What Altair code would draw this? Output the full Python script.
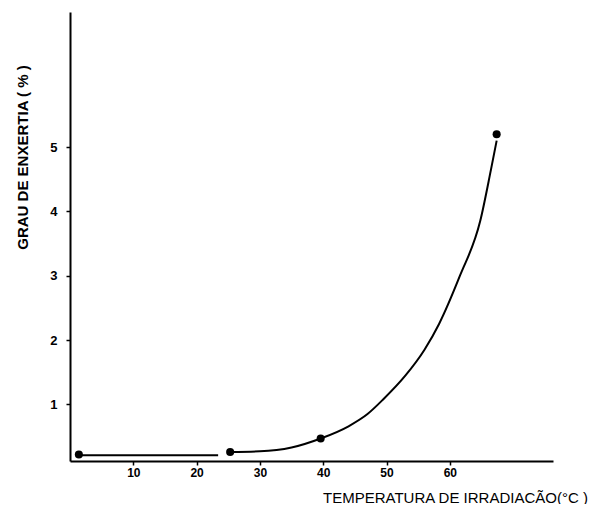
import altair as alt
import pandas as pd

# measured points
pt_x = [1.4, 25.3, 39.6, 67.4]
pt_y = [0.22, 0.26, 0.47, 5.2]

# flat segment drawn at the left
flat_x = [1.4, 23.4]
flat_y = [0.21, 0.21]

# hand-drawn curve through the upper points
curve_x = [25.3, 30, 35, 39.6, 44, 47, 49.5, 53, 56, 58.3, 61.6, 64.8, 66.5, 67.4]
curve_y = [0.26, 0.27, 0.33, 0.47, 0.66, 0.85, 1.08, 1.45, 1.85, 2.25, 3.0, 3.85, 4.65, 5.1]

x_ticks = [10, 20, 30, 40, 50, 60]
y_ticks = [1, 2, 3, 4, 5]

pts = pd.DataFrame({"x": pt_x, "y": pt_y})
lines = pd.DataFrame({
    "x": flat_x + curve_x,
    "y": flat_y + curve_y,
    "seg": ["a"] * len(flat_x) + ["b"] * len(curve_x),
    "order": list(range(len(flat_x))) + list(range(len(curve_x))),
})

xs = alt.Scale(domain=[0, 76.3], nice=False, zero=False)
ys = alt.Scale(domain=[0.12, 7.1], nice=False, zero=False)

FONT = "Liberation Sans"

xaxis = alt.Axis(
    values=x_ticks, format="d", grid=False, domainColor="black", domainWidth=2,
    tickColor="black", tickSize=4, tickWidth=1.5, labelFont=FONT,
    labelFontWeight="bold", labelFontSize=12, labelColor="black", labelPadding=2,
    title="TEMPERATURA DE IRRADIACÃO(°C )", titleFont=FONT, titleFontSize=15,
    titleFontWeight="normal", titleColor="black", titleX=385, titleY=36,
    titleAlign="center", titleBaseline="middle",
)
yaxis = alt.Axis(
    values=y_ticks, format="d", grid=False, domainColor="black", domainWidth=2,
    tickColor="black", tickSize=4, tickWidth=1.5, labelFont=FONT,
    labelFontWeight="bold", labelFontSize=13, labelColor="black", labelPadding=9,
    title="GRAU DE ENXERTIA ( % )", titleFont=FONT, titleFontSize=15,
    titleFontWeight="bold", titleColor="black", titleX=-48, titleY=145,
    titleAngle=-90, titleAlign="center", titleBaseline="middle",
)

line_layer = alt.Chart(lines).mark_line(
    color="black", strokeWidth=2, interpolate="monotone"
).encode(
    x=alt.X("x:Q", scale=xs, axis=xaxis),
    y=alt.Y("y:Q", scale=ys, axis=yaxis),
    detail="seg:N",
    order="order:Q",
)

pt_layer = alt.Chart(pts).mark_circle(color="black", opacity=1, size=65).encode(
    x=alt.X("x:Q", scale=xs),
    y=alt.Y("y:Q", scale=ys),
)

chart = alt.layer(line_layer, pt_layer).properties(
    width=483, height=449,
    autosize=alt.AutoSizeParams(type="none"),
    padding={"left": 62, "top": 4, "right": 40, "bottom": 43},
).configure(background="white").configure_view(stroke=None, strokeWidth=0)

chart.save("out.html", embed_options={"renderer": "svg", "actions": False})
